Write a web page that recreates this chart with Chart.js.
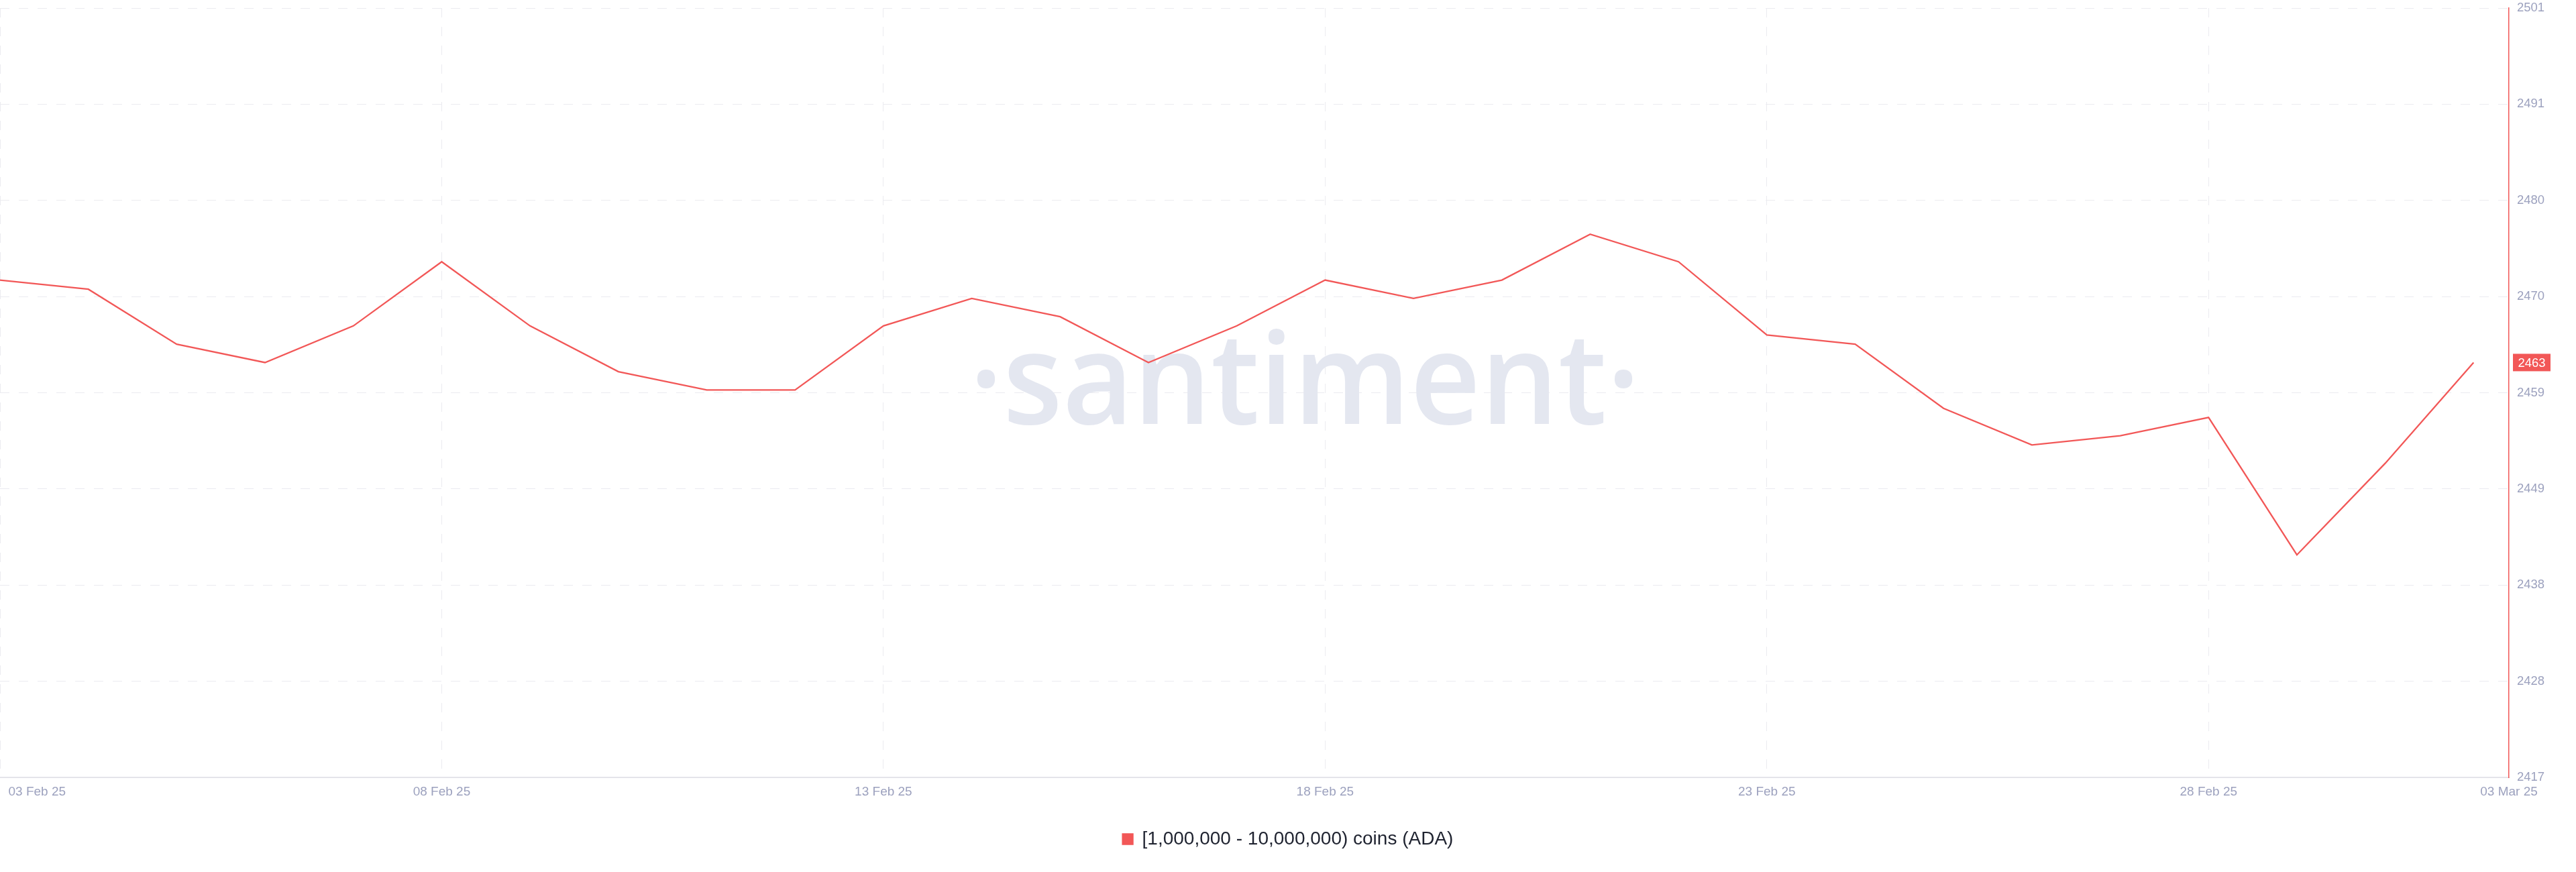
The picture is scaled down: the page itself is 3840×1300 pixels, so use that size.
<!DOCTYPE html>
<html>
<head>
<meta charset="utf-8">
<script src="https://cdn.jsdelivr.net/npm/chart.js@4.4.1/dist/chart.umd.min.js"></script>
<style>
  html, body { margin: 0; padding: 0; background: #ffffff; }
  #wrap { width: 3840px; height: 1300px; position: relative; }
</style>
</head>
<body>
<div id="wrap"><canvas id="c" width="3840" height="1300"></canvas></div>
<script>
// ---- data ----
const dates = ['03 Feb 25','04 Feb 25','05 Feb 25','06 Feb 25','07 Feb 25','08 Feb 25','09 Feb 25','10 Feb 25',
  '11 Feb 25','12 Feb 25','13 Feb 25','14 Feb 25','15 Feb 25','16 Feb 25','17 Feb 25','18 Feb 25','19 Feb 25',
  '20 Feb 25','21 Feb 25','22 Feb 25','23 Feb 25','24 Feb 25','25 Feb 25','26 Feb 25','27 Feb 25','28 Feb 25',
  '01 Mar 25','02 Mar 25','03 Mar 25'];
const holders = [2472, 2471, 2465, 2463, 2467, 2474, 2467, 2462, 2460, 2460,
  2467, 2470, 2468, 2463, 2467, 2472, 2470, 2472, 2477, 2474,
  2466, 2465, 2458, 2454, 2455, 2457, 2442, 2452, 2463];
const seriesName = '[1,000,000 - 10,000,000) coins (ADA)';
const xTickDays = [0, 0.42, 5, 10, 15, 20, 25, 28.4];
const xTickLabels = ['', '03 Feb 25', '08 Feb 25', '13 Feb 25', '18 Feb 25', '23 Feb 25', '28 Feb 25', '03 Mar 25'];
const yMin = 2417.7, yMax = 2501.7;
const yTickLabels = ['2417', '2428', '2438', '2449', '2459', '2470', '2480', '2491', '2501'];

// ---- styles ----
const RED = '#f25757';
const TICK_COLOR = '#9ca1be';
const GRID_COLOR = '#ebebf0';

const points = holders.map((v, i) => ({ x: i, y: v }));

const watermark = {
  id: 'watermark',
  beforeDatasetsDraw(chart) {
    const ctx = chart.ctx;
    ctx.save();
    ctx.font = '600 190px "Open Sans"';
    ctx.fillStyle = '#e4e7f0';
    ctx.textBaseline = 'alphabetic';
    const txt = '\u00B7santiment\u00B7';
    const w = ctx.measureText(txt).width;
    const targetW = 1000;
    const left = 1445;
    ctx.translate(left, 632);
    ctx.scale(targetW / w, 1);
    ctx.fillText(txt, 0, 0);
    ctx.restore();
  }
};

const lastLabel = {
  id: 'lastLabel',
  afterDraw(chart) {
    const ctx = chart.ctx;
    const ys = chart.scales.y;
    const v = holders[holders.length - 1];
    const y = ys.getPixelForValue(v);
    const x = chart.chartArea.right + 6;
    ctx.save();
    ctx.fillStyle = RED;
    ctx.fillRect(x, y - 13, 56, 26);
    ctx.fillStyle = '#ffffff';
    ctx.font = '18.5px "Liberation Sans", Arial, sans-serif';
    ctx.textAlign = 'center';
    ctx.textBaseline = 'middle';
    ctx.fillText(String(Math.round(v)), x + 28, y + 1);
    ctx.restore();
  }
};

new Chart(document.getElementById('c'), {
  type: 'line',
  data: {
    datasets: [{
      label: seriesName,
      data: points,
      borderColor: RED,
      backgroundColor: RED,
      borderWidth: 2.3,
      pointRadius: 0,
      tension: 0,
      fill: false
    }]
  },
  options: {
    responsive: false,
    devicePixelRatio: 1,
    animation: false,
    layout: { padding: { top: 12, bottom: 25, left: 0, right: 0 } },
    plugins: {
      tooltip: { enabled: false },
      legend: {
        position: 'bottom',
        labels: {
          boxWidth: 15,
          boxHeight: 15,
          padding: 10,
          color: '#1f2330',
          font: { family: '"Liberation Sans", Arial, sans-serif', size: 28 }
        }
      }
    },
    scales: {
      x: {
        type: 'linear',
        min: 0,
        max: 28.4,
        afterBuildTicks(scale) { scale.ticks = xTickDays.map(v => ({ value: v })); },
        afterFit(scale) { scale.height = 68; scale.paddingLeft = 0; scale.paddingRight = 0; },
        ticks: {
          autoSkip: false,
          maxRotation: 0,
          padding: 10,
          color: TICK_COLOR,
          font: { family: '"Liberation Sans", Arial, sans-serif', size: 19 },
          callback: (val, idx) => xTickLabels[idx]
        },
        grid: {
          drawTicks: false,
          lineWidth: 1,
          color: (c) => (c.index === 1 || c.index === 7) ? 'rgba(0,0,0,0)' : GRID_COLOR
        },
        border: { display: true, color: '#e4e4ea', width: 2, dash: [14, 14] }
      },
      y: {
        position: 'right',
        min: yMin,
        max: yMax,
        afterBuildTicks(scale) {
          scale.ticks = yTickLabels.map((l, i) => ({ value: yMin + i * (yMax - yMin) / (yTickLabels.length - 1) }));
        },
        afterFit(scale) { scale.width = 100; scale.paddingTop = 0; scale.paddingBottom = 0; },
        ticks: {
          padding: 12,
          color: TICK_COLOR,
          font: { family: '"Liberation Sans", Arial, sans-serif', size: 18.5 },
          callback: (val, idx) => yTickLabels[idx]
        },
        grid: { drawTicks: false, lineWidth: 1, color: GRID_COLOR },
        border: { display: true, color: RED, width: 1.5, dash: [14, 14] }
      }
    }
  },
  plugins: [watermark, lastLabel]
});
</script>
</body>
</html>
